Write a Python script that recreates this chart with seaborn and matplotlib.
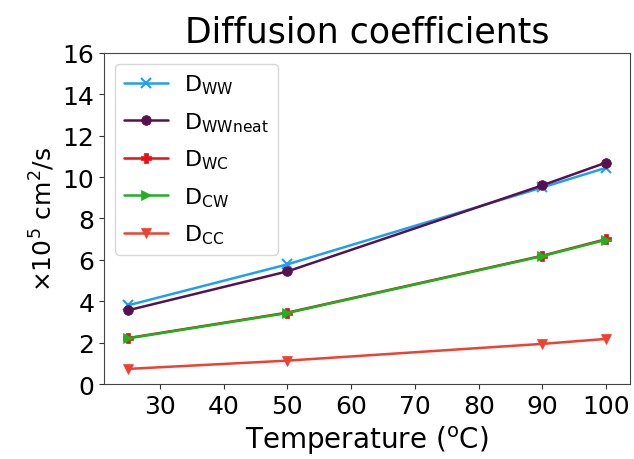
import matplotlib
matplotlib.use("Agg")
import matplotlib.pyplot as plt
import seaborn as sns
import pandas as pd

temperature = [25, 50, 90, 100]
d_ww = [3.8, 5.78, 9.5, 10.45]
d_ww_neat = [3.56, 5.44, 9.6, 10.7]
d_wc = [2.22, 3.45, 6.2, 7.0]
d_cw = [2.2, 3.43, 6.18, 6.97]
d_cc = [0.73, 1.13, 1.94, 2.18]

labels = [r'D$_{\mathregular{WW}}$', r'D$_{\mathregular{WWneat}}$',
          r'D$_{\mathregular{WC}}$', r'D$_{\mathregular{CW}}$', r'D$_{\mathregular{CC}}$']
series = [d_ww, d_ww_neat, d_wc, d_cw, d_cc]
colors = ['#1ea0f0', '#5a1050', '#e81010', '#20b020', '#f04030']
markers = ['x', 'o', 'P', '>', 'v']

sns.set_style("ticks")
plt.rcParams['font.family'] = ['DejaVu Sans']
plt.rcParams['text.color'] = 'black'
plt.rcParams['axes.labelcolor'] = 'black'
plt.rcParams['xtick.color'] = '#333333'
plt.rcParams['ytick.color'] = '#333333'
plt.rcParams['xtick.labelcolor'] = 'black'
plt.rcParams['ytick.labelcolor'] = 'black'

fig = plt.figure(figsize=(6.34, 4.6), dpi=100)
ax = fig.add_axes([0.164, 0.163, 0.830, 0.720])

for lab, vals, c, m in zip(labels, series, colors, markers):
    df = pd.DataFrame({'T': temperature, 'D': vals})
    sns.lineplot(data=df, x='T', y='D', ax=ax, color=c, marker=m, markersize=7,
                 markeredgecolor=c, markeredgewidth=1.5 if m == 'x' else 0.5,
                 linewidth=1.8, label=lab)

ax.set_ylim(0, 16)
ax.set_yticks(range(0, 17, 2))
ax.set_xticks(range(30, 101, 10))
ax.tick_params(labelsize=18)
ax.set_title('Diffusion coefficients', fontsize=25, pad=8)
ax.set_xlabel(r'Temperature ($^{\mathregular{o}}$C)', fontsize=20, labelpad=4)
ax.set_ylabel(r'$\times$10$^{\mathregular{5}}$ cm$^{\mathregular{2}}$/s', fontsize=18)
ax.legend(loc='upper left', fontsize=16, frameon=True, labelspacing=0.62,
          handletextpad=0.7)
for s in ax.spines.values():
    s.set_color('#444444')

fig.savefig('out.png', dpi=100)
